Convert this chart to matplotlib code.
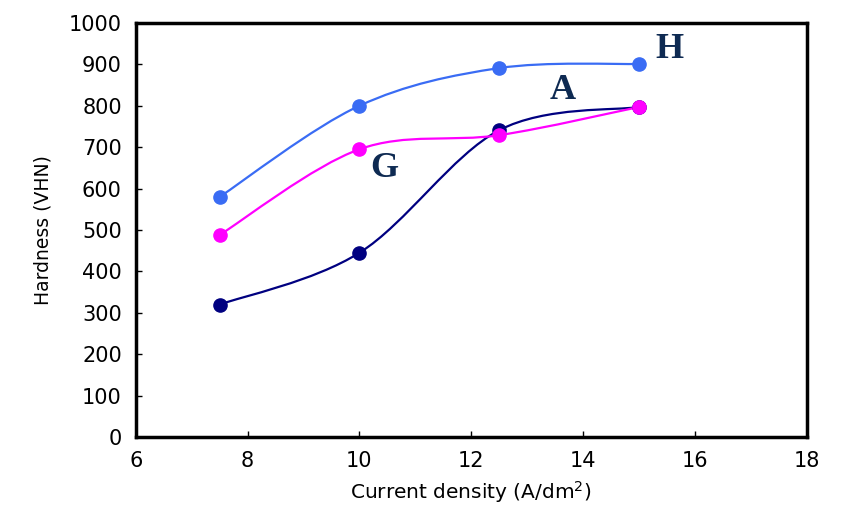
import numpy as np
import matplotlib
matplotlib.use("Agg")
import matplotlib.pyplot as plt
from matplotlib.path import Path
from matplotlib.patches import PathPatch

x_vals = [7.5, 10, 12.5, 15]
hard_H = [580, 800, 891, 901]
hard_G = [488, 695, 729, 797]
hard_A = [320, 445, 741, 797]
series_names = ["H", "A", "G"]
series_colors = ["#3a6cf4", "#000080", "#ff00ff"]
label_pos = {"H": (15.55, 935), "G": (10.45, 649), "A": (13.64, 838)}
x_ticks = [6, 8, 10, 12, 14, 16, 18]
y_ticks = list(range(0, 1001, 100))


def smooth_path(xs, ys):
    pts = np.column_stack([xs, ys]).astype(float)
    n = len(pts)
    verts = [pts[0]]
    codes = [Path.MOVETO]
    for i in range(n - 1):
        p0 = pts[i - 1] if i > 0 else pts[i]
        p1 = pts[i]
        p2 = pts[i + 1]
        p3 = pts[i + 2] if i + 2 < n else pts[i + 1]
        c1 = p1 + (p2 - p0) / 6.0
        c2 = p2 - (p3 - p1) / 6.0
        verts += [c1, c2, p2]
        codes += [Path.CURVE4] * 3
    return Path(verts, codes)


fig = plt.figure(figsize=(8.43, 5.21), dpi=100)
ax = fig.add_axes([0.161, 0.161, 0.796, 0.795])

series = {"H": hard_H, "G": hard_G, "A": hard_A}
for name, col in zip(series_names, series_colors):
    ys = series[name]
    patch = PathPatch(smooth_path(x_vals, ys), facecolor="none", edgecolor=col, lw=1.6, zorder=2)
    ax.add_patch(patch)
    ax.plot(x_vals, ys, linestyle="none", marker="o", ms=9.5, color=col, zorder=3)
    lx, ly = label_pos[name]
    ax.text(lx, ly, name, fontsize=26, fontweight="bold", family="Liberation Serif",
            color="#0e2a52", ha="center", va="center")

ax.set_xlim(6, 18)
ax.set_ylim(0, 1000)
ax.set_xticks(x_ticks)
ax.set_yticks(y_ticks)
ax.tick_params(direction="in", length=4, width=1, labelsize=15, pad=10)
for lab in ax.get_xticklabels() + ax.get_yticklabels():
    lab.set_family("DejaVu Sans")
for sp in ax.spines.values():
    sp.set_linewidth(2.5)

ax.set_xlabel(r"Current density (A/dm$^2$)", fontsize=14.5, family="DejaVu Sans", labelpad=6)
ax.set_ylabel("Hardness (VHN)", fontsize=13.5, family="DejaVu Sans", labelpad=12)

fig.savefig("out.png", dpi=100)
